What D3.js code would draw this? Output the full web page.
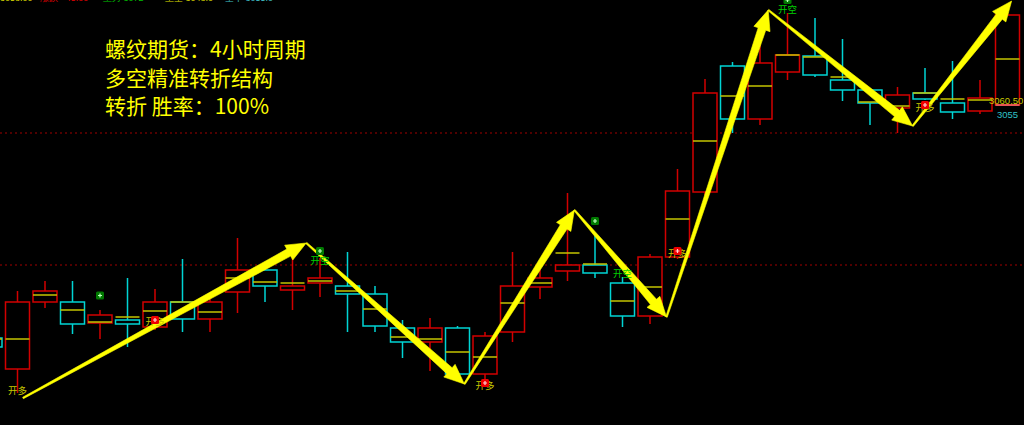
<!DOCTYPE html>
<html>
<head>
<meta charset="utf-8">
<script src="https://cdn.jsdelivr.net/npm/d3@7"></script>
<style>
  body { margin: 0; background: #000; overflow: hidden; }
  svg { display: block; }
</style>
</head>
<body>
<script>
// 4h bar times
var bars = ["03-01 09:00", "03-01 13:30", "03-01 21:00", "03-02 09:00", "03-02 13:30", "03-02 21:00",
  "03-03 09:00", "03-03 13:30", "03-03 21:00", "03-04 09:00", "03-04 13:30", "03-04 21:00",
  "03-05 09:00", "03-05 13:30", "03-05 21:00", "03-08 09:00", "03-08 13:30", "03-08 21:00",
  "03-09 09:00", "03-09 13:30", "03-09 21:00", "03-10 09:00", "03-10 13:30", "03-10 21:00",
  "03-11 09:00", "03-11 13:30", "03-11 21:00", "03-12 09:00", "03-12 13:30", "03-12 21:00",
  "03-15 09:00", "03-15 13:30", "03-15 21:00", "03-16 09:00", "03-16 13:30", "03-16 21:00",
  "03-17 09:00", "03-17 13:30"];

var opens  = [2941.5, 2926, 2959.5, 2959.5, 2949, 2950.5, 2947, 2959.5, 2951, 2964.5, 2975.5, 2965.5, 2969,
  2967.5, 2963.5, 2946.5, 2939.5, 2946.5, 2923.5, 2944.5, 2967, 2975, 2978, 2969, 2952.5, 2982, 3014.5,
  3077.5, 3051, 3074.5, 3082.5, 3070.5, 3065.5, 3056.5, 3064, 3059, 3055, 3058];
var highs  = [2943, 2965, 2970, 2970, 2955.5, 2971.5, 2966, 2981, 2962.5, 2991.5, 2979.5, 2984, 2981.5,
  2984.5, 2967.5, 2950.5, 2951.5, 2947.5, 2944.5, 2984.5, 2975.5, 3014, 2993, 2972, 2983.5, 3026, 3071,
  3079.5, 3092, 3104, 3101.5, 3091, 3066.5, 3067, 3076.5, 3080, 3070.5, 3104.5];
var lows   = [2935.5, 2914, 2956.5, 2943.5, 2941, 2937, 2945.5, 2944.5, 2944.5, 2954, 2959.5, 2955.5, 2962,
  2944.5, 2944.5, 2931.5, 2925, 2922.5, 2918, 2939.5, 2961, 2970, 2971.5, 2947, 2948.5, 2981, 3013,
  3044, 3048, 3070.5, 3072, 3060, 3048, 3044, 3060.5, 3051, 3053.5, 3058];
var closes = [2937, 2959.5, 2965, 2948.5, 2953, 2948.5, 2959.5, 2951, 2959.5, 2975.5, 2967.5, 2967.5, 2971.5,
  2963.5, 2947.5, 2939.5, 2946.5, 2923.5, 2942.5, 2967.5, 2971.5, 2978, 2974, 2952.5, 2982, 3015, 3064,
  3051, 3079, 3083, 3073, 3065.5, 3059, 3063, 3061, 3054.5, 3061.5, 3103];
// yellow middle line of every bar
var mids   = [2941, 2941, 2963, 2955.5, 2949.5, 2952, 2955, 2959.5, 2954.5, 2971.5, 2969.5, 2969, 2970,
  2965, 2956, 2942, 2941, 2934.5, 2932, 2959, 2969, 2984, 2978.5, 2960, 2967, 3001, 3040,
  3062.5, 3067.5, 3083, 3082, 3072, 3059.5, 3057.5, 3064, 3061, 3060.5, 3081];

// turning points of the zigzag (bar position, price)
var turnIndex = [1.2, 11.5, 17.25, 21.25, 24.6, 28.3, 33.55, 37.15];
var turnPrice = [2911.5, 2989, 2918.5, 3005.5, 2952, 3105.5, 3047.5, 3110];

// signal dots
var markIndex = [4, 6, 12, 18, 22, 25, 29, 34];
var markPrice = [2962.75, 2950.5, 2985, 2919, 3000, 2985, 3110.5, 3058];
var markType  = ["short", "long", "short", "long", "short", "long", "short", "long"];

// signal texts
var labIndex = [1, 6, 12, 18, 23, 25, 29, 34];
var labPrice = [2915.5, 2950, 2980.5, 2918, 2974, 2984, 3106, 3057];
var labText  = ["开多", "开多", "开空", "开多", "开空", "开多", "开空", "开多"];

// dotted price levels
var levels = [3044.25, 2978.25];

var titleLines = ["螺纹期货：4小时周期", "多空精准转折结构", "转折 胜率：100%"];

var headTexts  = ["3058.00", "涨跌 +45.00", "主力 3072", "主空 3048.0", "空平 3055.0"];
var headX      = [0, 40, 103, 165, 225];
var headColors = ["#d8d800", "#e00000", "#00c000", "#d8d800", "#40c0c8"];

var svgWidth = 1024;
var svgHeight = 425;

var colorUp = "#d20000";
var colorDown = "#00d4d4";
var colorMid = "#c4c400";

var svg = d3.select("body")
  .append("svg")
  .attr("width", svgWidth)
  .attr("height", svgHeight)
  .style("background", "#000");

// scales
var xScale = d3.scaleLinear()
  .domain([0, bars.length - 1])
  .range([-10, 1007.5]);

var yScale = d3.scaleLinear()
  .domain([2898, 3110.5])
  .range([svgHeight, 0]);

var candleW = 24;

var data = bars.map(function(b, i) {
  return { t: b, i: i, o: opens[i], h: highs[i], l: lows[i], c: closes[i], m: mids[i] };
});

// dotted level lines
svg.selectAll(".level")
  .data(levels)
  .enter()
  .append("line")
  .attr("class", "level")
  .attr("x1", 0)
  .attr("x2", svgWidth)
  .attr("y1", function(d) { return yScale(d) + 0.5; })
  .attr("y2", function(d) { return yScale(d) + 0.5; })
  .attr("stroke", "#a00000")
  .attr("stroke-width", 1)
  .attr("stroke-dasharray", "2,3");

// candles
var candle = svg.selectAll(".candle")
  .data(data)
  .enter()
  .append("g")
  .attr("class", "candle");

candle.append("line")
  .attr("x1", function(d) { return xScale(d.i); })
  .attr("x2", function(d) { return xScale(d.i); })
  .attr("y1", function(d) { return yScale(d.h); })
  .attr("y2", function(d) { return yScale(Math.max(d.o, d.c)); })
  .attr("stroke", function(d) { return d.c >= d.o ? colorUp : colorDown; })
  .attr("stroke-width", 1.5);

candle.append("line")
  .attr("x1", function(d) { return xScale(d.i); })
  .attr("x2", function(d) { return xScale(d.i); })
  .attr("y1", function(d) { return yScale(Math.min(d.o, d.c)); })
  .attr("y2", function(d) { return yScale(d.l); })
  .attr("stroke", function(d) { return d.c >= d.o ? colorUp : colorDown; })
  .attr("stroke-width", 1.5);

candle.append("rect")
  .attr("x", function(d) { return xScale(d.i) - candleW / 2; })
  .attr("y", function(d) { return yScale(Math.max(d.o, d.c)); })
  .attr("width", candleW)
  .attr("height", function(d) { return Math.max(1, yScale(Math.min(d.o, d.c)) - yScale(Math.max(d.o, d.c))); })
  .attr("fill", "#000")
  .attr("stroke", function(d) { return d.c >= d.o ? colorUp : colorDown; })
  .attr("stroke-width", 1.5);

candle.append("line")
  .attr("x1", function(d) { return xScale(d.i) - candleW / 2; })
  .attr("x2", function(d) { return xScale(d.i) + candleW / 2; })
  .attr("y1", function(d) { return yScale(d.m); })
  .attr("y2", function(d) { return yScale(d.m); })
  .attr("stroke", colorMid)
  .attr("stroke-width", 1.5);

// zigzag arrows: thin at start, thick near the head
function arrowPoints(x0, y0, x1, y1) {
  var dx = x1 - x0, dy = y1 - y0;
  var len = Math.sqrt(dx * dx + dy * dy);
  var ux = dx / len, uy = dy / len;
  var nx = -uy, ny = ux;
  var headLen = 20, headW = 8.5, w0 = 0.8, w1 = 4;
  var bx = x1 - ux * headLen, by = y1 - uy * headLen;
  return [
    [x0 + nx * w0, y0 + ny * w0],
    [bx + nx * w1, by + ny * w1],
    [bx + nx * headW, by + ny * headW],
    [x1, y1],
    [bx - nx * headW, by - ny * headW],
    [bx - nx * w1, by - ny * w1],
    [x0 - nx * w0, y0 - ny * w0]
  ];
}

var segs = d3.range(turnIndex.length - 1).map(function(k) {
  return arrowPoints(xScale(turnIndex[k]), yScale(turnPrice[k]),
    xScale(turnIndex[k + 1]), yScale(turnPrice[k + 1]));
});

svg.selectAll(".zz")
  .data(segs)
  .enter()
  .append("path")
  .attr("class", "zz")
  .attr("d", function(d) { return d3.line()(d) + "Z"; })
  .attr("fill", "#ffff00")
  .attr("stroke", "#ffff00")
  .attr("stroke-width", 0.6)
  .attr("stroke-linejoin", "round");

// signal texts
svg.selectAll(".sig")
  .data(labText)
  .enter()
  .append("text")
  .attr("class", "sig")
  .attr("x", function(d, i) { return xScale(labIndex[i]); })
  .attr("y", function(d, i) { return yScale(labPrice[i]) + 3.5; })
  .attr("text-anchor", "middle")
  .attr("font-family", "Noto Sans CJK SC")
  .attr("font-size", "9.5px")
  .attr("fill", function(d) { return d == "开多" ? "#c8c800" : "#00d000"; })
  .text(function(d) { return d; });

// signal dots
var mark = svg.selectAll(".mark")
  .data(markIndex)
  .enter()
  .append("g")
  .attr("class", "mark")
  .attr("transform", function(d, i) { return "translate(" + xScale(d) + "," + yScale(markPrice[i]) + ")"; });

mark.append("rect")
  .attr("x", -4)
  .attr("y", -4)
  .attr("width", 8)
  .attr("height", 8)
  .attr("rx", 1.5)
  .attr("fill", function(d, i) { return markType[i] == "long" ? "#f00000" : "#007a00"; });

mark.append("path")
  .attr("d", "M-2,0H2M0,-2V2")
  .attr("stroke", function(d, i) { return markType[i] == "long" ? "#ffd0d0" : "#c0ffc0"; })
  .attr("stroke-width", 1.2);

// last price marks on the right
var last = data[data.length - 1];
svg.append("line")
  .attr("x1", xScale(last.i) - candleW / 2)
  .attr("x2", xScale(last.i) + candleW / 2)
  .attr("y1", yScale(last.o))
  .attr("y2", yScale(last.o))
  .attr("stroke", "#ff7070")
  .attr("stroke-width", 1.5);

svg.append("text")
  .attr("x", 989)
  .attr("y", 104)
  .attr("font-family", "Liberation Sans")
  .attr("font-size", "9.5px")
  .attr("fill", "#c8c800")
  .text("3060.50");

svg.append("text")
  .attr("x", 997)
  .attr("y", 118)
  .attr("font-family", "Liberation Sans")
  .attr("font-size", "9.5px")
  .attr("fill", "#30c0c8")
  .text("3055");

// title
svg.selectAll(".title")
  .data(titleLines)
  .enter()
  .append("text")
  .attr("class", "title")
  .attr("x", 105)
  .attr("y", function(d, i) { return 57 + i * 28.5; })
  .attr("font-family", "Noto Sans CJK SC")
  .attr("font-size", "21px")
  .attr("fill", "#ffff00")
  .text(function(d) { return d; });

// header line, mostly outside the picture
svg.selectAll(".head")
  .data(headTexts)
  .enter()
  .append("text")
  .attr("class", "head")
  .attr("x", function(d, i) { return headX[i]; })
  .attr("y", 1)
  .attr("font-family", "Liberation Sans")
  .attr("font-size", "9px")
  .attr("fill", function(d, i) { return headColors[i]; })
  .text(function(d) { return d; });
</script>
</body>
</html>
